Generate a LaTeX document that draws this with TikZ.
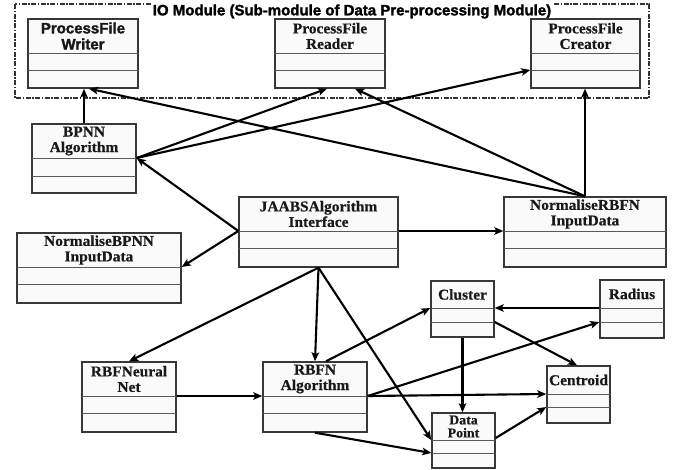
\documentclass[tikz,border=0pt]{standalone}
\usepackage{fontspec}
\setmainfont{Liberation Serif}[FakeStretch=1.03, BoldFeatures={FakeBold=0.5}]
\newfontfamily\heavysans{Liberation Sans}[BoldFeatures={FakeBold=1.8}]
\usetikzlibrary{arrows.meta,fit,calc}

\tikzset{
  classbox/.style={draw=black!78, line width=1.4pt, fill=black!2, inner sep=0pt},
  divider/.style={draw=black!65, line width=1pt},
  classname/.style={font=\bfseries\fontsize{15}{15.5}\selectfont, align=center,
                    inner sep=0pt, text=black!90},
  sanslabel/.style={font=\heavysans\bfseries\fontsize{15}{16}\selectfont},
  titlelabel/.style={font=\heavysans\bfseries\fontsize{15}{16}\selectfont},
  smalllabel/.style={font=\bfseries\fontsize{13.5}{13}\selectfont},
  link/.style={draw=black, line width=2.1pt,
               -{Stealth[length=9pt,width=7.5pt,inset=2pt]}},
  module/.style={draw=black!80, line width=1.3pt,
                 dash pattern=on 5pt off 1.5pt on 1.5pt off 1.5pt},
}

% class box: name, x1, y1, x2, y2, first divider, second divider, label, label style
\newcommand\umlclass[9]{%
  \node[classbox, fit={(#2,#3) (#4,#5)}] (#1) {};
  \draw[divider] (#2,#6) coordinate (#1-a) -- (#4,#6);
  \draw[divider] (#2,#7) coordinate (#1-b) -- (#4,#7);
  \node[classname, #9] (#1-t) at ({(#2+#4)/2},{(#3+#6)/2}) {#8};
}

\begin{document}
\begin{tikzpicture}[x=1pt, y=-1pt]
\useasboundingbox (0,0) rectangle (674,469);
\fill[white] (0,0) rectangle (674,469);

% IO module frame
\draw[module] (15,4) rectangle (649,98);
\node[fill=white, inner sep=1.5pt, titlelabel] (title) at (352,11.5)
  {IO Module (Sub-module of Data Pre-processing Module)};

% classes
\umlclass{writer}{28}{19}{138}{88}{53}{70}{ProcessFile\\Writer}{sanslabel}
\umlclass{reader}{275}{19}{385}{88}{53}{70}{ProcessFile\\Reader}{}
\umlclass{creator}{531}{19}{640}{88}{53}{70}{ProcessFile\\Creator}{}
\umlclass{bpnn}{32}{124}{136}{193}{158}{176}{BPNN\\Algorithm}{}
\umlclass{nbpnn}{17}{233}{181}{303}{267}{284}{NormaliseBPNN\\InputData}{}
\umlclass{jaabs}{239}{197}{398}{267}{231}{248}{JAABSAlgorithm\\Interface}{}
\umlclass{nrbfn}{504}{197}{666}{267}{231}{248}{NormaliseRBFN\\InputData}{}
\umlclass{cluster}{431}{281}{494}{337}{308}{322}{Cluster}{}
\umlclass{radius}{600}{280}{664}{338}{308}{322}{Radius}{}
\umlclass{centroid}{547}{366}{610}{423}{394}{407}{Centroid}{}
\umlclass{datapoint}{432}{413}{495}{468}{440}{453}{Data\\Point}{smalllabel}
\umlclass{rbfnn}{82}{362}{176}{432}{396}{413}{RBFNeural\\Net}{}
\umlclass{rbfn}{263}{362}{367}{432}{396}{413}{RBFN\\Algorithm}{}

% associations
\draw[link] (bpnn.north) -- (bpnn.north |- writer.south);
\draw[link] (nrbfn.north) -- ($(writer.south)+(6,0)$);
\draw[link] (nrbfn.north) -- ($(reader.south)+(25,0)$);
\draw[link] (nrbfn.north) -- (nrbfn.north |- creator.south);
\draw[link] (bpnn.east |- bpnn-a) -- ($(reader.south)+(-3,0)$);
\draw[link] (bpnn.east |- bpnn-a) -- (creator.west |- creator-b);
\draw[link] (jaabs.west |- jaabs-a) -- (bpnn.east |- bpnn-a);
\draw[link] (jaabs.west |- jaabs-a) -- (nbpnn.east |- nbpnn-a);
\draw[link] (jaabs.east |- jaabs-a) -- (nrbfn.west |- nrbfn-a);
\draw[link] (jaabs.south) -- (rbfnn.north);
\draw[link] (jaabs.south) -- (rbfn.north);
\draw[link] (jaabs.south) -- (datapoint.west |- datapoint-a);
\draw[link] (rbfnn.east |- rbfnn-a) -- (rbfn.west |- rbfn-a);
\draw[link] ($(rbfn.north)+(11,0)$) -- (cluster.west |- cluster-a);
\draw[link] (rbfn.east |- rbfn-a) -- (radius.west |- radius-b);
\draw[link] (rbfn.east |- rbfn-a) -- (centroid.west |- centroid-a);
\draw[link] (rbfn.south) -- (datapoint.west |- datapoint-b);
\draw[link] (radius.west |- radius-a) -- (cluster.east |- cluster-a);
\draw[link] (cluster.east |- cluster-b) -- ($(centroid.north)+(-1.5,0)$);
\draw[link] (cluster.south) -- (cluster.south |- datapoint.north);
\draw[link] ($(datapoint.east |- datapoint-a)+(0,-2)$) -- (centroid.west |- centroid-b);
\end{tikzpicture}
\end{document}
